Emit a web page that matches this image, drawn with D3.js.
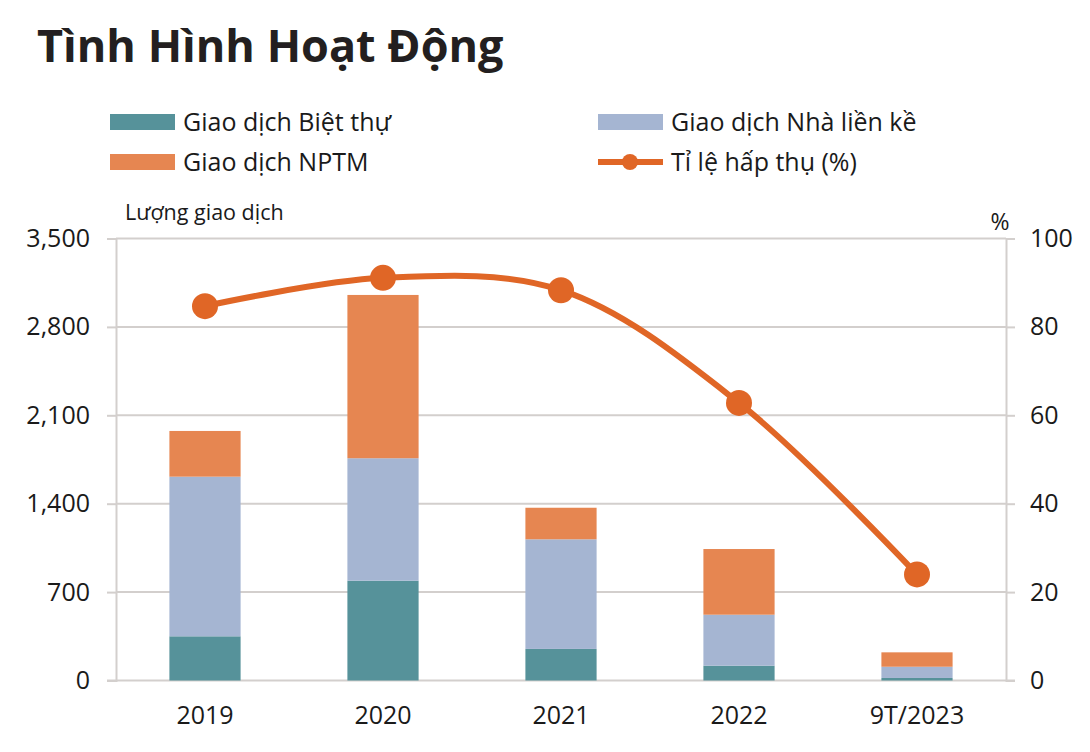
<!DOCTYPE html>
<html><head><meta charset="utf-8">
<script src="https://cdn.jsdelivr.net/npm/d3@7"></script>
<style>body{margin:0;background:#fff}svg{display:block}text{font-family:"Open Sans",sans-serif;fill:#1a1a1a}</style>
</head><body><svg id="c" width="1090" height="752"></svg>
<script>
const categories = ["2019","2020","2021","2022","9T/2023"];
const bietThu = [350, 790, 250, 117, 20];
const nhaLienKe = [1264, 970, 868, 404, 89];
const nptm = [362, 1293, 250, 520, 114];
const tiLeHapThu = [84.7, 91.1, 88.3, 62.8, 24.0];
const leftTicks = [0, 700, 1400, 2100, 2800, 3500];
const rightTicks = [0, 20, 40, 60, 80, 100];
const seriesNames = ["Giao dịch Biệt thự","Giao dịch Nhà liền kề","Giao dịch NPTM","Tỉ lệ hấp thụ (%)"];
const colors = ["#56929A","#A5B5D2","#E68651","#E06626"];

const svg = d3.select("#c");
const L = 116, R = 1006, T = 238.5, B = 680.5;
const x = d3.scaleBand().domain(categories).range([L, R]).paddingInner(0.6).paddingOuter(0.3);
const y = d3.scaleLinear().domain([0, 3500]).range([B, T]);
const y2 = d3.scaleLinear().domain([0, 100]).range([B, T]);
const grid = "#D3CFCD";

// title
svg.append("text").attr("x", 37).attr("y", 62).attr("font-size", 45).attr("font-weight", 700)
  .style("fill", "#231F20").text("Tình Hình Hoạt Động");

// gridlines
svg.append("g").selectAll("line").data(leftTicks.slice(1)).join("line")
  .attr("x1", L).attr("x2", R).attr("y1", d => y(d)).attr("y2", d => y(d))
  .attr("stroke", grid).attr("stroke-width", 2);

// left axis
const gl = svg.append("g").attr("transform", `translate(${L},0)`)
  .call(d3.axisLeft(y).tickValues(leftTicks).tickFormat(d3.format(",")).tickSize(9).tickPadding(17));
gl.select(".domain").attr("stroke", grid).attr("stroke-width", 2);
gl.selectAll(".tick line").attr("stroke", grid).attr("stroke-width", 2);
gl.selectAll(".tick text").attr("font-size", 25).attr("font-family", "Open Sans").style("fill", "#1a1a1a");

// right axis
const gr = svg.append("g").attr("transform", `translate(${R},0)`)
  .call(d3.axisRight(y2).tickValues(rightTicks).tickSize(9).tickPadding(15));
gr.select(".domain").attr("stroke", grid).attr("stroke-width", 2);
gr.selectAll(".tick line").attr("stroke", grid).attr("stroke-width", 2);
gr.selectAll(".tick text").attr("font-size", 25).attr("font-family", "Open Sans").style("fill", "#1a1a1a");

// bottom axis
const gb = svg.append("g").attr("transform", `translate(0,${B})`)
  .call(d3.axisBottom(x).tickSize(0).tickPadding(26));
gb.select(".domain").attr("stroke", grid).attr("stroke-width", 2).attr("d", `M${L-9},0H${R+9}`);
gb.selectAll(".tick text").attr("font-size", 25).attr("font-family", "Open Sans").style("fill", "#1a1a1a");

// stacked bars
const rows = categories.map((c, i) => ({cat: c, bt: bietThu[i], nlk: nhaLienKe[i], nptm: nptm[i]}));
const stack = d3.stack().keys(["bt","nlk","nptm"])(rows);
svg.append("g").selectAll("g").data(stack).join("g").attr("fill", (d, i) => colors[i])
  .selectAll("rect").data(d => d).join("rect")
  .attr("x", d => x(d.data.cat)).attr("width", x.bandwidth())
  .attr("y", d => y(d[1])).attr("height", d => y(d[0]) - y(d[1]));

// line
const pts = categories.map((c, i) => [x(c) + x.bandwidth()/2, y2(tiLeHapThu[i])]);
svg.append("path").attr("d", d3.line().curve(d3.curveCatmullRom.alpha(0.5))(pts))
  .attr("fill", "none").attr("stroke", colors[3]).attr("stroke-width", 6).attr("stroke-linecap", "round");
svg.append("g").selectAll("circle").data(pts).join("circle")
  .attr("cx", d => d[0]).attr("cy", d => d[1]).attr("r", 13).attr("fill", colors[3]);

// legend
const legPos = [[110, 122], [598, 122], [110, 162], [598, 162]];
seriesNames.forEach((n, i) => {
  const [lx, ly] = legPos[i];
  if (i < 3) {
    svg.append("rect").attr("x", lx).attr("y", ly - 8).attr("width", 65).attr("height", 16).attr("fill", colors[i]);
  } else {
    svg.append("line").attr("x1", lx).attr("x2", lx + 65).attr("y1", ly).attr("y2", ly)
      .attr("stroke", colors[3]).attr("stroke-width", 6);
    svg.append("circle").attr("cx", lx + 32).attr("cy", ly).attr("r", 8).attr("fill", colors[3]);
  }
  svg.append("text").attr("x", lx + 73).attr("y", ly).attr("dy", "0.35em").attr("font-size", 25).text(n);
});

// axis titles
svg.append("text").attr("x", 125).attr("y", 212).attr("dy", "0.35em").attr("font-size", 21.5).text("Lượng giao dịch");
svg.append("text").attr("x", 1000).attr("y", 222).attr("dy", "0.35em").attr("font-size", 23).attr("text-anchor", "middle").text("%");
</script></body></html>
